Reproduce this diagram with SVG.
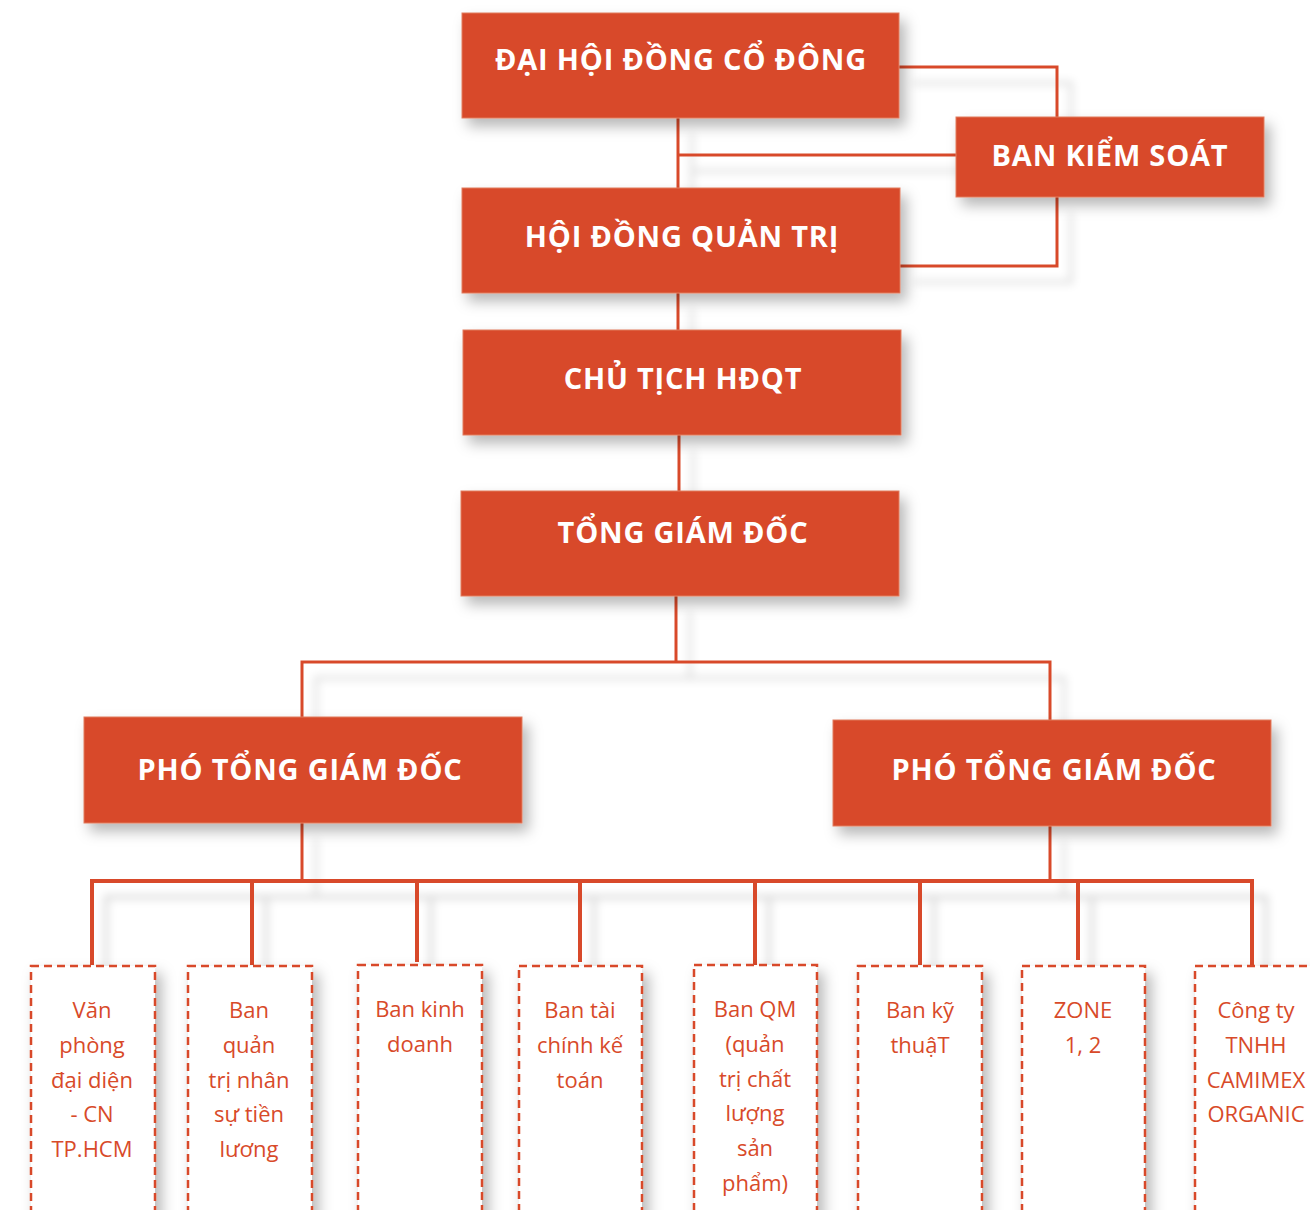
<svg xmlns="http://www.w3.org/2000/svg" width="1310" height="1210" viewBox="0 0 1310 1210">
<defs>
<filter id="sh" x="-20%" y="-30%" width="140%" height="170%">
<feDropShadow dx="6" dy="8" stdDeviation="7" flood-color="#000" flood-opacity="0.28"/>
</filter>
<filter id="lsh" x="-50%" y="-50%" width="200%" height="200%">
<feDropShadow dx="14" dy="16" stdDeviation="4" flood-color="#000" flood-opacity="0.16"/>
</filter>
<style>
.box{fill:#D84A29;stroke:#E07A5F;stroke-width:1;}
.ht{font-family:"Open Sans","Noto Sans",sans-serif;font-weight:bold;font-size:29px;fill:#fff;text-anchor:middle;letter-spacing:0.8px;}
.dbox{fill:#fff;stroke:#D84A29;stroke-width:2.5;stroke-dasharray:8 5;}
.dt{font-family:"Open Sans","Noto Sans",sans-serif;font-size:22px;fill:#D84A29;text-anchor:middle;}
.ln{fill:none;stroke:#D84A29;stroke-width:3;}
.lnb{fill:none;stroke:#D84A29;stroke-width:4;}
</style>
</defs>
<g id="connectors" filter="url(#lsh)">
<path class="ln" d="M899 67 H1057 V117"/>
<path class="ln" d="M900 266 H1057 V197"/>
<path class="ln" d="M678 118 V188"/>
<path class="ln" d="M678 155 H956"/>
<path class="ln" d="M678 293 V330"/>
<path class="ln" d="M679 435 V491"/>
<path class="ln" d="M676 596 V662"/>
<path class="ln" d="M302 717 V662 H1050 V720"/>
<path class="ln" d="M302 823 V881"/>
<path class="ln" d="M1050 826 V881"/>
<path class="lnb" d="M92 965 V881 H1252 V965"/>
<path class="lnb" d="M252 881 V965 M417 881 V962 M580 881 V962 M755 881 V965 M920 881 V965 M1078 881 V960"/>
</g>
<g id="dhdcd"><rect class="box" x="462" y="13" width="437" height="105" filter="url(#sh)"/><text class="ht" x="681" y="70">ĐẠI HỘI ĐỒNG CỔ ĐÔNG</text></g>
<g id="bks"><rect class="box" x="956" y="117" width="308" height="80" filter="url(#sh)"/><text class="ht" x="1110" y="166">BAN KIỂM SOÁT</text></g>
<g id="hdqt"><rect class="box" x="462" y="188" width="438" height="105" filter="url(#sh)"/><text class="ht" x="682" y="247">HỘI ĐỒNG QUẢN TRỊ</text></g>
<g id="cthdqt"><rect class="box" x="463" y="330" width="438" height="105" filter="url(#sh)"/><text class="ht" x="683" y="389">CHỦ TỊCH HĐQT</text></g>
<g id="tgd"><rect class="box" x="461" y="491" width="438" height="105" filter="url(#sh)"/><text class="ht" x="683" y="543">TỔNG GIÁM ĐỐC</text></g>
<g id="ptgd1"><rect class="box" x="84" y="717" width="438" height="106" filter="url(#sh)"/><text class="ht" x="300" y="780">PHÓ TỔNG GIÁM ĐỐC</text></g>
<g id="ptgd2"><rect class="box" x="833" y="720" width="438" height="106" filter="url(#sh)"/><text class="ht" x="1054" y="780">PHÓ TỔNG GIÁM ĐỐC</text></g>
<g id="d1"><rect class="dbox" x="31" y="966" width="124" height="260" filter="url(#sh)"/><text class="dt"><tspan x="92" y="1018">Văn</tspan><tspan x="92" y="1053">phòng</tspan><tspan x="92" y="1088">đại diện</tspan><tspan x="92" y="1122">- CN</tspan><tspan x="92" y="1157">TP.HCM</tspan></text></g>
<g id="d2"><rect class="dbox" x="188" y="966" width="124" height="260" filter="url(#sh)"/><text class="dt"><tspan x="249" y="1018">Ban</tspan><tspan x="249" y="1053">quản</tspan><tspan x="249" y="1088">trị nhân</tspan><tspan x="249" y="1122">sự tiền</tspan><tspan x="249" y="1157">lương</tspan></text></g>
<g id="d3"><rect class="dbox" x="358" y="965" width="124" height="260" filter="url(#sh)"/><text class="dt"><tspan x="420" y="1017">Ban kinh</tspan><tspan x="420" y="1052">doanh</tspan></text></g>
<g id="d4"><rect class="dbox" x="519" y="966" width="123" height="260" filter="url(#sh)"/><text class="dt"><tspan x="580" y="1018">Ban tài</tspan><tspan x="580" y="1053">chính kế</tspan><tspan x="580" y="1088">toán</tspan></text></g>
<g id="d5"><rect class="dbox" x="694" y="965" width="123" height="260" filter="url(#sh)"/><text class="dt"><tspan x="755" y="1017">Ban QM</tspan><tspan x="755" y="1052">(quản</tspan><tspan x="755" y="1087">trị chất</tspan><tspan x="755" y="1121">lượng</tspan><tspan x="755" y="1156">sản</tspan><tspan x="755" y="1191">phẩm)</tspan></text></g>
<g id="d6"><rect class="dbox" x="858" y="966" width="124" height="260" filter="url(#sh)"/><text class="dt"><tspan x="920" y="1018">Ban kỹ</tspan><tspan x="920" y="1053">thuậT</tspan></text></g>
<g id="d7"><rect class="dbox" x="1022" y="966" width="123" height="260" filter="url(#sh)"/><text class="dt"><tspan x="1083" y="1018">ZONE</tspan><tspan x="1083" y="1053">1, 2</tspan></text></g>
<g id="d8"><rect class="dbox" x="1195" y="966" width="130" height="260" filter="url(#sh)"/><text class="dt"><tspan x="1256" y="1018">Công ty</tspan><tspan x="1256" y="1053">TNHH</tspan><tspan x="1256" y="1088">CAMIMEX</tspan><tspan x="1256" y="1122">ORGANIC</tspan></text></g>
</svg>
